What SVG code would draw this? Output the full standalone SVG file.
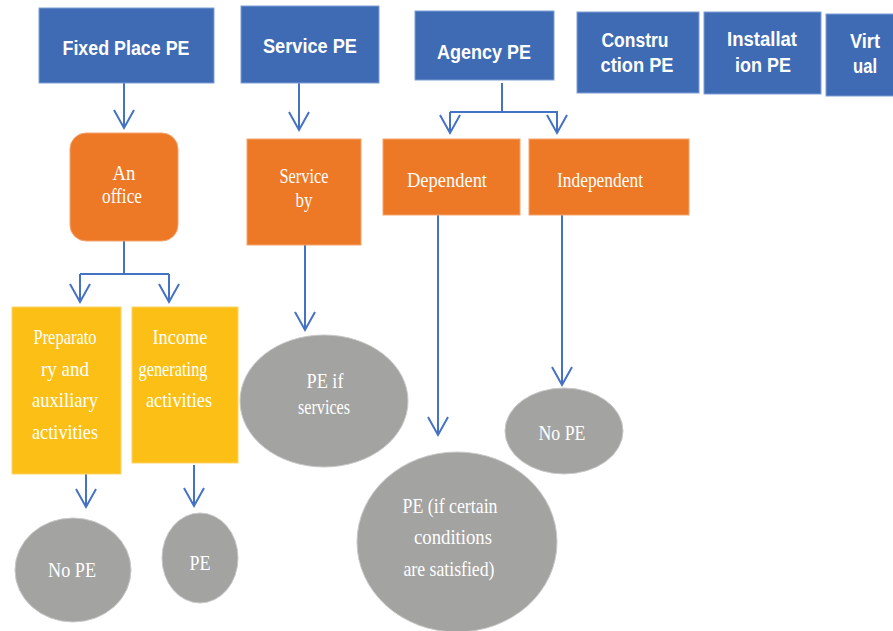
<svg xmlns="http://www.w3.org/2000/svg" width="893" height="631" viewBox="0 0 893 631">
<defs>
<style>
.blue{fill:#3F6BB4;stroke:#7F9FD6;stroke-width:1}
.orange{fill:#ED7826;stroke:#F4A46E;stroke-width:1}
.yellow{fill:#FBBF16;stroke:#FCD36A;stroke-width:1}
.gray{fill:#A3A3A2;stroke:#C8C8C8;stroke-width:1}
.bt{font-family:"Liberation Sans",Arial,sans-serif;font-weight:bold;font-size:20px;fill:#fff;text-anchor:middle}
.st{font-family:"Liberation Serif","Times New Roman",serif;font-size:21px;fill:#fff;text-anchor:middle}
.conn path{fill:none;stroke:#4472C4;stroke-width:2}
</style>
<marker id="arr" markerUnits="userSpaceOnUse" markerWidth="24" markerHeight="26" refX="20" refY="12" orient="auto">
<path d="M2,2 L20,12 L2,22" fill="none" stroke="#4472C4" stroke-width="2"/>
</marker>
</defs>
<rect width="893" height="631" fill="#fff"/>

<g id="conns" class="conn">
<path d="M124,83 V128" marker-end="url(#arr)"/>
<path d="M299,83 V130" marker-end="url(#arr)"/>
<path d="M502,83 V112 M450,112 H558"/>
<path d="M450,112 V133" marker-end="url(#arr)"/>
<path d="M557,112 V133" marker-end="url(#arr)"/>
<path d="M124,241 V274 M80,274 H169"/>
<path d="M80,274 V302" marker-end="url(#arr)"/>
<path d="M169,274 V302" marker-end="url(#arr)"/>
<path d="M86,464 V507" marker-end="url(#arr)"/>
<path d="M194,465 V506" marker-end="url(#arr)"/>
<path d="M305,245 V330" marker-end="url(#arr)"/>
<path d="M438,215 V435" marker-end="url(#arr)"/>
<path d="M562,215 V385" marker-end="url(#arr)"/>
</g>

<g id="fixed-place-pe"><rect class="blue" x="39" y="8" width="175" height="75"/><text class="bt" x="126" y="55" textLength="127" lengthAdjust="spacingAndGlyphs">Fixed Place PE</text></g>
<g id="service-pe"><rect class="blue" x="241" y="6" width="138" height="77"/><text class="bt" x="310" y="53" textLength="94" lengthAdjust="spacingAndGlyphs">Service PE</text></g>
<g id="agency-pe"><rect class="blue" x="415" y="11" width="139" height="69"/><text class="bt" x="484" y="59" textLength="94" lengthAdjust="spacingAndGlyphs">Agency PE</text></g>
<g id="construction-pe"><rect class="blue" x="577" y="12" width="122" height="81"/><text class="bt" x="635" y="47" textLength="67" lengthAdjust="spacingAndGlyphs">Constru</text><text class="bt" x="637" y="72" textLength="73" lengthAdjust="spacingAndGlyphs">ction PE</text></g>
<g id="installation-pe"><rect class="blue" x="704" y="12" width="117" height="82"/><text class="bt" x="762" y="46" textLength="70" lengthAdjust="spacingAndGlyphs">Installat</text><text class="bt" x="763" y="72" textLength="56" lengthAdjust="spacingAndGlyphs">ion PE</text></g>
<g id="virtual"><rect class="blue" x="826" y="14" width="70" height="82"/><text class="bt" x="865" y="48" textLength="30" lengthAdjust="spacingAndGlyphs">Virt</text><text class="bt" x="865" y="73" textLength="24" lengthAdjust="spacingAndGlyphs">ual</text></g>

<g id="an-office"><rect class="orange" x="70" y="133" width="108" height="108" rx="16"/><text class="st" x="124" y="180" textLength="23" lengthAdjust="spacingAndGlyphs">An</text><text class="st" x="122" y="203" textLength="40" lengthAdjust="spacingAndGlyphs">office</text></g>
<g id="service-by"><rect class="orange" x="247" y="139" width="114" height="106"/><text class="st" x="304" y="183" textLength="49" lengthAdjust="spacingAndGlyphs">Service</text><text class="st" x="304" y="207" textLength="17" lengthAdjust="spacingAndGlyphs">by</text></g>
<g id="dependent"><rect class="orange" x="383" y="139" width="137" height="76"/><text class="st" x="447" y="187" textLength="80" lengthAdjust="spacingAndGlyphs">Dependent</text></g>
<g id="independent"><rect class="orange" x="529" y="139" width="160" height="76"/><text class="st" x="600" y="187" textLength="86" lengthAdjust="spacingAndGlyphs">Independent</text></g>

<g id="preparatory"><rect class="yellow" x="12" y="307" width="109" height="167"/><text class="st" x="65" y="344" textLength="63" lengthAdjust="spacingAndGlyphs">Preparato</text><text class="st" x="65" y="376" textLength="48" lengthAdjust="spacingAndGlyphs">ry and</text><text class="st" x="65" y="407" textLength="66" lengthAdjust="spacingAndGlyphs">auxiliary</text><text class="st" x="65" y="439" textLength="66" lengthAdjust="spacingAndGlyphs">activities</text></g>
<g id="income"><rect class="yellow" x="132" y="307" width="106" height="156"/><text class="st" x="180" y="344" textLength="55" lengthAdjust="spacingAndGlyphs">Income</text><text class="st" x="173" y="376" textLength="69" lengthAdjust="spacingAndGlyphs">generating</text><text class="st" x="179" y="407" textLength="66" lengthAdjust="spacingAndGlyphs">activities</text></g>

<g id="no-pe-left"><ellipse class="gray" cx="73" cy="570" rx="58" ry="52"/><text class="st" x="72" y="577" textLength="48" lengthAdjust="spacingAndGlyphs">No PE</text></g>
<g id="pe"><ellipse class="gray" cx="200" cy="558" rx="38" ry="45"/><text class="st" x="200" y="570" textLength="21" lengthAdjust="spacingAndGlyphs">PE</text></g>
<g id="pe-if-services"><ellipse class="gray" cx="324" cy="401" rx="84" ry="66"/><text class="st" x="325" y="388" textLength="37" lengthAdjust="spacingAndGlyphs">PE if</text><text class="st" x="324" y="414" textLength="52" lengthAdjust="spacingAndGlyphs">services</text></g>
<g id="no-pe-right"><ellipse class="gray" cx="564" cy="431" rx="59" ry="43"/><text class="st" x="562" y="440" textLength="47" lengthAdjust="spacingAndGlyphs">No PE</text></g>
<g id="pe-conditions"><ellipse class="gray" cx="457" cy="542" rx="100" ry="90"/><text class="st" x="450" y="513" textLength="95" lengthAdjust="spacingAndGlyphs">PE (if certain</text><text class="st" x="453" y="544" textLength="78" lengthAdjust="spacingAndGlyphs">conditions</text><text class="st" x="449" y="576" textLength="91" lengthAdjust="spacingAndGlyphs">are satisfied)</text></g>
</svg>
